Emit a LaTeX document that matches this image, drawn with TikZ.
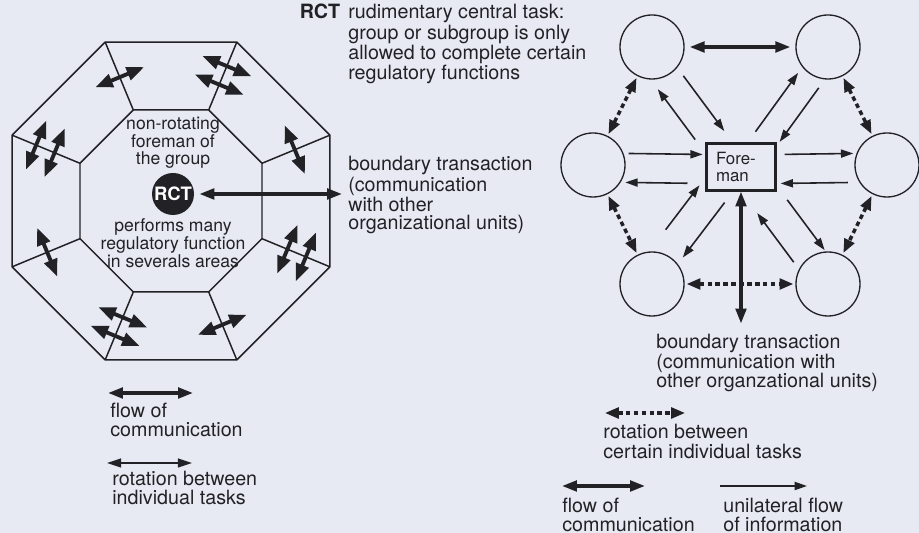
\documentclass[tikz,border=0pt]{standalone}
\usepackage{fontspec}
\setmainfont{TeX Gyre Heros}
\usetikzlibrary{arrows.meta,positioning,calc}
\definecolor{paper}{RGB}{231,234,242}
\definecolor{ink}{RGB}{34,34,38}

\begin{document}
\begin{tikzpicture}[
    every node/.style={text=ink},
    edge/.style={draw=ink, line width=0.85pt, line join=round},
    txt/.style={anchor=north west, align=left, inner sep=0pt, font=\fontsize{11.2}{10.5}\selectfont},
    task/.style={circle, draw=ink, line width=0.75pt, minimum size=1.28cm, inner sep=0pt},
    boss/.style={rectangle, draw=ink, line width=1.2pt, minimum height=0.94cm, text width=1.0cm, inner xsep=0.19cm, align=left, font=\fontsize{9.6}{9.8}\selectfont},
    comm/.style={draw=ink, line width=1.9pt, {Triangle[length=8.5pt,width=6pt]}-{Triangle[length=8.5pt,width=6pt]}},
    info/.style={draw=ink, line width=0.9pt, -{Triangle[length=7pt,width=4.6pt]}},
    swap/.style={draw=ink, line width=2pt, dash pattern=on 2.6pt off 1.9pt, {Triangle[length=8pt,width=6pt]}-{Triangle[length=8pt,width=6pt]}, shorten <=1pt, shorten >=1pt},
    turn/.style={draw=ink, line width=2.2pt, {Triangle[length=10pt,width=7.5pt]}-{Triangle[length=10pt,width=7.5pt]}},
    spin/.style={draw=ink, line width=1.1pt, {Triangle[length=8pt,width=5pt]}-{Triangle[length=8pt,width=5pt]}}
]
\fill[paper] (0,0) rectangle (18.38,10.66);
\useasboundingbox (0,0) rectangle (18.38,10.66);

% octagon of the group
\coordinate (ctr) at (3.42,6.64);
\foreach \k in {1,...,8} {
  \coordinate (o\k) at ($(ctr)+(\k*45-22.5:3.44)$);
  \coordinate (i\k) at ($(ctr)+(\k*45-22.5:1.97)$);
  \draw[edge] (o\k) -- (i\k);
}
\draw[edge] (o1) -- (o2) -- (o3) -- (o4) -- (o5) -- (o6) -- (o7) -- (o8) -- cycle;
\draw[edge] (i1) -- (i2) -- (i3) -- (i4) -- (i5) -- (i6) -- (i7) -- (i8) -- cycle;
\foreach \k in {1,3,5,7}
  \draw[turn] ($(ctr)+(\k*45-22.5:2.68)+(\k*45+67.5:0.53)$) -- ($(ctr)+(\k*45-22.5:2.68)+(\k*45-112.5:0.53)$);
\foreach \k in {2,4,6,8}
  \foreach \r in {2.52,2.92}
    \draw[turn] ($(ctr)+(\k*45-22.5:\r)+(\k*45+67.5:0.53)$) -- ($(ctr)+(\k*45-22.5:\r)+(\k*45-112.5:0.53)$);

\node[circle, fill=ink, minimum size=0.84cm, inner sep=0pt, text=white, font=\fontsize{10.5}{10.5}\selectfont\bfseries] (rct) at (3.46,6.78) {RCT};
\node[inner sep=0pt, align=center, font=\fontsize{10}{9.9}\selectfont, above=0.08cm of rct] (fmtop) {non-rotating\\foreman of\\the group};
\node[inner sep=0pt, align=center, font=\fontsize{10}{10.2}\selectfont, below=0.06cm of rct] (fmbot) {performs many\\regulatory function\\in severals areas};
\coordinate (lbnd) at (6.84,6.78);
\draw[comm, shorten <=0.1cm] (rct) -- (lbnd);

\node[txt] (rctnote) at (6.96,10.58) {rudimentary central task:\\group or subgroup is only\\allowed to complete certain\\regulatory functions};
\node[txt, anchor=north east, font=\fontsize{11.2}{10.5}\selectfont\bfseries] (rctkey) at ([xshift=-0.15cm]rctnote.north west) {RCT};
\node[txt] (lbndnote) at (6.96,7.54) {boundary transaction\\(communication\\with other\\organizational units)};

% left legend
\coordinate (lflowa) at (2.16,2.80);
\coordinate (lflowb) at (3.86,2.80);
\draw[comm] (lflowa) -- (lflowb);
\node[txt] (lflownote) at (2.20,2.60) {flow of\\communication};
\coordinate (lspina) at (2.14,1.40);
\coordinate (lspinb) at (3.84,1.40);
\draw[spin] (lspina) -- (lspinb);
\node[txt] (lspinnote) at (2.24,1.24) {rotation between\\individual tasks};

% group with foreman
\node[task] (tl) at (13.04,9.72) {};
\node[task] (tr) at (16.56,9.72) {};
\node[task] (ml) at (11.86,7.36) {};
\node[task] (mr) at (17.74,7.36) {};
\node[task] (bl) at (13.04,4.98) {};
\node[task] (br) at (16.56,4.98) {};
\node[boss] (fm) at (14.82,7.32) {Fore-\\man};

\draw[comm, shorten <=0.1cm, shorten >=0.1cm] (tl) -- (tr);
\draw[swap] (tl) -- (ml);
\draw[swap] (tr) -- (mr);
\draw[swap] (ml) -- (bl);
\draw[swap] (mr) -- (br);
\draw[swap] (bl) -- (br);

\draw[info] ($(tl)!0.28!(fm)!0.16cm!90:(fm)$) -- ($(tl)!0.74!(fm)!0.16cm!90:(fm)$);
\draw[info] ($(tl)!0.67!(fm)!0.41cm!-90:(fm)$) -- ($(tl)!0.25!(fm)!0.41cm!-90:(fm)$);
\draw[info] ($(tr)!0.75!(fm)!0.18cm!-90:(fm)$) -- ($(tr)!0.26!(fm)!0.18cm!-90:(fm)$);
\draw[info] ($(tr)!0.26!(fm)!0.33cm!90:(fm)$) -- ($(tr)!0.71!(fm)!0.33cm!90:(fm)$);
\draw[info] ($(ml)!0.24!(fm)!0.24cm!90:(fm)$) -- ($(ml)!0.74!(fm)!0.24cm!90:(fm)$);
\draw[info] ($(ml)!0.64!(fm)!0.34cm!-90:(fm)$) -- ($(ml)!0.22!(fm)!0.34cm!-90:(fm)$);
\draw[info] ($(mr)!0.70!(fm)!0.24cm!-90:(fm)$) -- ($(mr)!0.23!(fm)!0.24cm!-90:(fm)$);
\draw[info] ($(mr)!0.27!(fm)!0.34cm!90:(fm)$) -- ($(mr)!0.73!(fm)!0.34cm!90:(fm)$);
\draw[info] ($(bl)!0.35!(fm)!0.44cm!90:(fm)$) -- ($(bl)!0.73!(fm)!0.44cm!90:(fm)$);
\draw[info] ($(bl)!0.74!(fm)!0.17cm!-90:(fm)$) -- ($(bl)!0.27!(fm)!0.17cm!-90:(fm)$);
\draw[info] ($(br)!0.63!(fm)!0.35cm!-90:(fm)$) -- ($(br)!0.20!(fm)!0.35cm!-90:(fm)$);
\draw[info] ($(br)!0.26!(fm)!0.29cm!90:(fm)$) -- ($(br)!0.68!(fm)!0.29cm!90:(fm)$);

\coordinate[below=2.64cm of fm.south] (rbnd);
\draw[comm] (fm.south) -- (rbnd);
\node[txt, font=\fontsize{11.2}{11}\selectfont] (rbndnote) at (13.12,3.98) {boundary transaction\\(communication with\\other organzational units)};

% right legend
\coordinate (rswapa) at (12.06,2.40);
\coordinate (rswapb) at (13.74,2.40);
\draw[swap] (rswapa) -- (rswapb);
\node[txt, font=\fontsize{11.2}{11.2}\selectfont] (rswapnote) at (12.06,2.18) {rotation between\\certain individual tasks};
\coordinate (rflowa) at (11.24,0.94);
\coordinate (rflowb) at (12.90,0.94);
\draw[comm] (rflowa) -- (rflowb);
\node[txt] (rflownote) at (11.24,0.70) {flow of\\communication};
\coordinate (rinfoa) at (14.40,0.94);
\coordinate (rinfob) at (16.14,0.94);
\draw[info] (rinfoa) -- (rinfob);
\node[txt] (rinfonote) at (14.46,0.70) {unilateral flow\\of information};
\end{tikzpicture}
\end{document}
